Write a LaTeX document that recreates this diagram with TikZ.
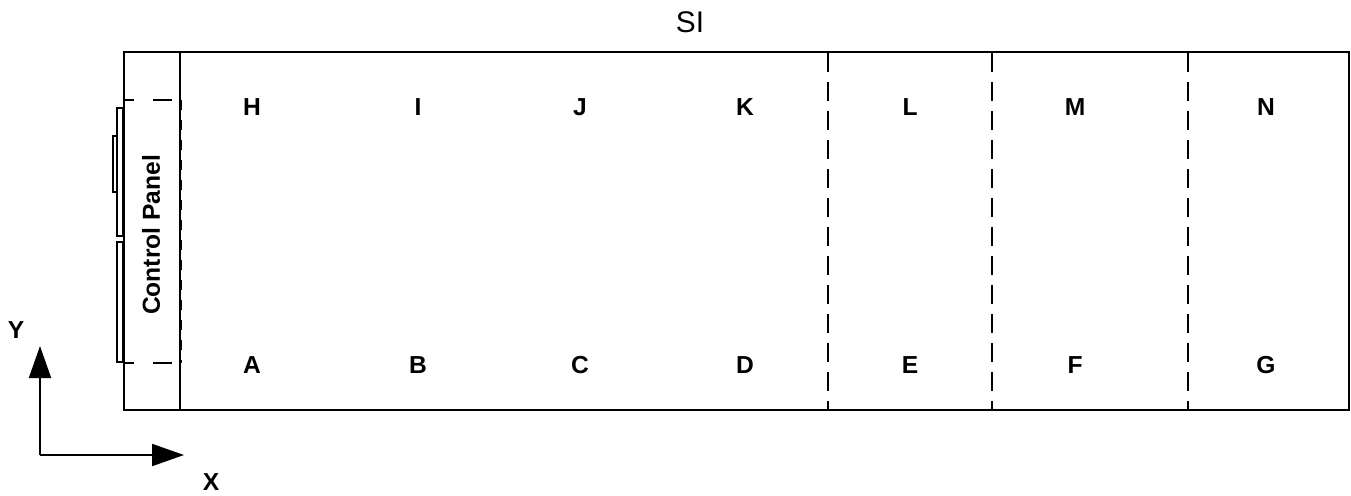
\documentclass[tikz,border=0pt]{standalone}
\usepackage{fontspec}
\setmainfont{Liberation Sans}
\usetikzlibrary{arrows.meta}

\tikzset{
  zone/.style={font=\fontsize{14}{16}\selectfont\bfseries},
  divider/.style={draw,line width=0.8pt,dash pattern=on 0.38cm off 0.2cm},
  edge/.style={draw,line width=0.85pt}
}

\begin{document}
\begin{tikzpicture}[x=0.02cm,y=-0.02cm,>={Triangle[length=0.64cm,width=0.44cm]}]

\useasboundingbox (0,0) rectangle (1351,495);

% room and control panel
\path [edge] (180,52) rectangle (1349,410);
\path [edge] (124,52) rectangle (180,410);
\path [edge] (117,108) rectangle (123,236);
\path [edge] (113,136) rectangle (117,192);
\path [edge] (117,242) rectangle (123,362);

\path [draw,line width=0.8pt]
    (125,100) -- (134,100)
    (153,100) -- (172,100)
    (125,363) -- (134,363)
    (153,363) -- (172,363)
;
\path [draw,line width=1.4pt,dash pattern=on 0.2cm off 0.2cm] (181,100) -- (181,363);

\path [divider]
    (828,53) -- (828,410)
    (992,53) -- (992,410)
    (1188,53) -- (1188,410)
;

\node (title) at (690,22) {\fontsize{17}{19}\selectfont SI};
\node [zone,rotate=90] (panel) at (151,235) {Control Panel};

% upper row
\node [zone] (h) at (252,107) {H};
\node [zone] (i) at (418,107) {I};
\node [zone] (j) at (580,107) {J};
\node [zone] (k) at (745,107) {K};
\node [zone] (l) at (910,107) {L};
\node [zone] (m) at (1075,107) {M};
\node [zone] (n) at (1266,107) {N};

% lower row
\node [zone] (a) at (252,365) {A};
\node [zone] (b) at (418,365) {B};
\node [zone] (c) at (580,365) {C};
\node [zone] (d) at (745,365) {D};
\node [zone] (e) at (910,365) {E};
\node [zone] (f) at (1075,365) {F};
\node [zone] (g) at (1266,365) {G};

% axes
\coordinate (origin) at (40,455);
\coordinate (ytip) at (40,346);
\coordinate (xtip) at (184,455);
\node [zone] (ylabel) at (16,330) {Y};
\node [zone] (xlabel) at (211,482) {X};

\path [draw,->,line width=1.1pt]
    (origin) -- (ytip)
;
\path [draw,->,line width=1.1pt]
    (origin) -- (xtip)
;

\end{tikzpicture}
\end{document}
